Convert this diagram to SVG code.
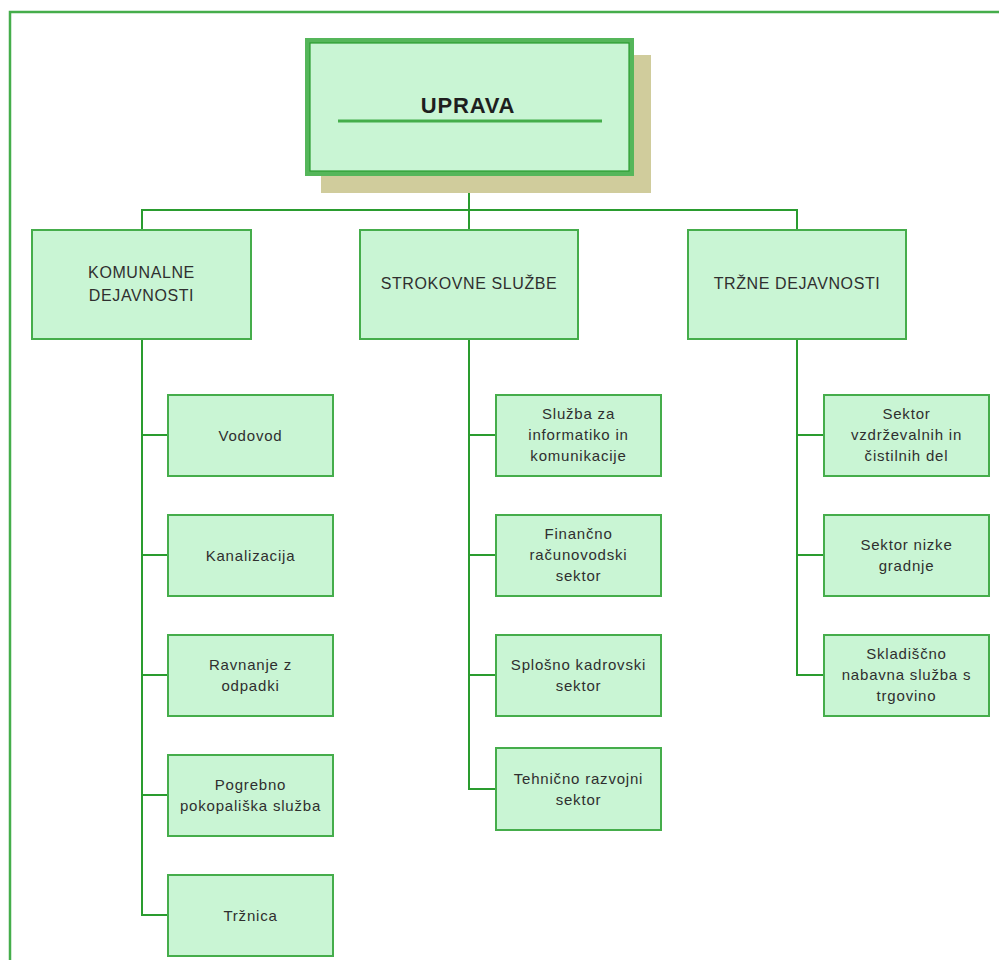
<svg xmlns="http://www.w3.org/2000/svg" width="999" height="960" viewBox="0 0 999 960">
<style>
.box{fill:#c9f5d4;stroke:#45ad4b;stroke-width:2}
.t{font-family:"Liberation Sans",Arial,sans-serif;font-size:15px;fill:#2f2f2f;text-anchor:middle;letter-spacing:0.8px}
.t2{font-family:"Liberation Sans",Arial,sans-serif;font-size:16px;fill:#2f2f2f;text-anchor:middle;letter-spacing:0.6px}
.c{fill:none;stroke:#2a9c2f;stroke-width:2}
</style>
<rect width="999" height="960" fill="#fff"/>
<path d="M10,960 V12 H999" fill="none" stroke="#45ad4b" stroke-width="2.5"/>
<g id="connectors">
<path class="c" d="M469,175 V230 M142,230 V210 H797 V230"/>
<path class="c" d="M142,339 V915 H168 M142,435 H168 M142,555 H168 M142,675 H168 M142,795 H168"/>
<path class="c" d="M469,339 V789 H496 M469,435 H496 M469,555 H496 M469,675 H496"/>
<path class="c" d="M797,339 V675 H824 M797,435 H824 M797,555 H824"/>
</g>
<g id="uprava">
<rect x="321" y="55" width="330" height="138" fill="#d0cc9c"/>
<rect x="307.5" y="40.5" width="324" height="133" fill="#c9f5d4" stroke="#55b65a" stroke-width="5"/>
<rect x="310" y="43" width="319" height="128" fill="none" stroke="#2a9c2f" stroke-width="1.2"/>
<text x="468" y="113" font-family="Liberation Sans,Arial,sans-serif" font-size="22" font-weight="bold" fill="#1e1e1e" text-anchor="middle" letter-spacing="0.8">UPRAVA</text>
<line x1="338" y1="121" x2="602" y2="121" stroke="#45ad4b" stroke-width="3"/>
</g>
<g id="komunalne"><rect class="box" x="32" y="230" width="219" height="109"/><text class="t2" x="141.5" y="278">KOMUNALNE</text><text class="t2" x="141.5" y="301">DEJAVNOSTI</text></g>
<g id="strokovne"><rect class="box" x="360" y="230" width="218" height="109"/><text class="t2" x="469" y="289">STROKOVNE SLUŽBE</text></g>
<g id="trzne"><rect class="box" x="688" y="230" width="218" height="109"/><text class="t2" x="797" y="289">TRŽNE DEJAVNOSTI</text></g>

<g id="vodovod"><rect class="box" x="168" y="395" width="165" height="81"/><text class="t" x="250.5" y="441">Vodovod</text></g>
<g id="kanalizacija"><rect class="box" x="168" y="515" width="165" height="81"/><text class="t" x="250.5" y="561">Kanalizacija</text></g>
<g id="ravnanje"><rect class="box" x="168" y="635" width="165" height="81"/><text class="t" x="250.5" y="670">Ravnanje z</text><text class="t" x="250.5" y="691">odpadki</text></g>
<g id="pogrebno"><rect class="box" x="168" y="755" width="165" height="81"/><text class="t" x="250.5" y="790">Pogrebno</text><text class="t" x="250.5" y="811">pokopališka služba</text></g>
<g id="trznica"><rect class="box" x="168" y="875" width="165" height="81"/><text class="t" x="250.5" y="921">Tržnica</text></g>

<g id="informatika"><rect class="box" x="496" y="395" width="165" height="81"/><text class="t" x="578.5" y="419">Služba za</text><text class="t" x="578.5" y="440">informatiko in</text><text class="t" x="578.5" y="461">komunikacije</text></g>
<g id="financni"><rect class="box" x="496" y="515" width="165" height="81"/><text class="t" x="578.5" y="539">Finančno</text><text class="t" x="578.5" y="560">računovodski</text><text class="t" x="578.5" y="581">sektor</text></g>
<g id="kadrovski"><rect class="box" x="496" y="635" width="165" height="81"/><text class="t" x="578.5" y="670">Splošno kadrovski</text><text class="t" x="578.5" y="691">sektor</text></g>
<g id="tehnicni"><rect class="box" x="496" y="748" width="165" height="82"/><text class="t" x="578.5" y="784">Tehnično razvojni</text><text class="t" x="578.5" y="805">sektor</text></g>

<g id="vzdrzevalni"><rect class="box" x="824" y="395" width="165" height="81"/><text class="t" x="906.5" y="419">Sektor</text><text class="t" x="906.5" y="440">vzdrževalnih in</text><text class="t" x="906.5" y="461">čistilnih del</text></g>
<g id="nizka"><rect class="box" x="824" y="515" width="165" height="81"/><text class="t" x="906.5" y="550">Sektor nizke</text><text class="t" x="906.5" y="571">gradnje</text></g>
<g id="skladiscno"><rect class="box" x="824" y="635" width="165" height="81"/><text class="t" x="906.5" y="659">Skladiščno</text><text class="t" x="906.5" y="680">nabavna služba s</text><text class="t" x="906.5" y="701">trgovino</text></g>
</svg>
